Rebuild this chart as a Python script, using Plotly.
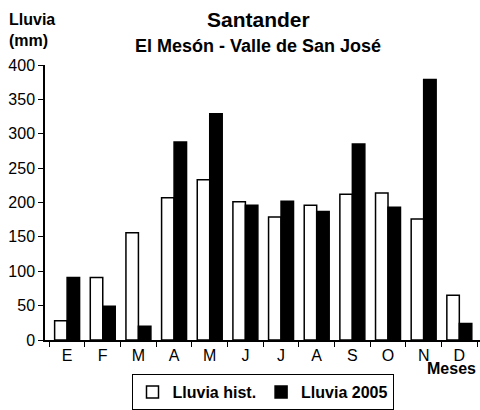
import plotly.graph_objects as go

months = ["Ene", "Feb", "Mar", "Abr", "May", "Jun", "Jul", "Ago", "Sep", "Oct", "Nov", "Dic"]
month_labels = ["E", "F", "M", "A", "M", "J", "J", "A", "S", "O", "N", "D"]
lluvia_hist = [28, 91, 156, 207, 233, 201, 179, 196, 212, 214, 176, 65]
lluvia_2005 = [91, 49, 20, 288, 329, 196, 202, 187, 285, 193, 379, 24]
y_ticks = [0, 50, 100, 150, 200, 250, 300, 350, 400]

FONT = "Liberation Sans, Arial, sans-serif"

fig = go.Figure()
fig.add_trace(go.Bar(
    x=months, y=lluvia_hist, name="Lluvia hist.",
    marker=dict(color="white", line=dict(color="black", width=1.5)),
))
fig.add_trace(go.Bar(
    x=months, y=lluvia_2005, name="Lluvia 2005",
    marker=dict(color="black", line=dict(color="black", width=1.5)),
))

fig.update_layout(
    width=480, height=410,
    margin=dict(l=45, r=0, t=65, b=70, autoexpand=False),
    paper_bgcolor="white", plot_bgcolor="white",
    barmode="group", bargap=0.3, bargroupgap=0,
    font=dict(family=FONT, size=16, color="black"),
    showlegend=True,
    legend=dict(
        orientation="h", x=0.5, xanchor="center",
        yref="container", y=0.0, yanchor="bottom",
        bordercolor="black", borderwidth=1, bgcolor="white",
        font=dict(family=FONT, size=16, color="black", weight="bold"),
        itemwidth=30,
    ),
    xaxis=dict(
        type="category", categoryorder="array", categoryarray=months,
        tickmode="array", tickvals=months, ticktext=month_labels,
        tickson="boundaries", ticks="outside", ticklen=5, tickcolor="black",
        showline=True, linecolor="black", linewidth=1.5,
        showgrid=False, range=[-0.62, 11.58], zeroline=False,
        tickfont=dict(family=FONT, size=16, color="black"),
    ),
    yaxis=dict(
        range=[0, 400], tickmode="array", tickvals=y_ticks,
        ticks="outside", ticklen=5, tickcolor="black",
        showline=True, linecolor="black", linewidth=1.5,
        showgrid=False, zeroline=False,
        tickfont=dict(family=FONT, size=16, color="black"),
    ),
    annotations=[
        dict(text="<b>Santander</b>", x=0.49, y=1.164, xref="paper", yref="paper",
             xanchor="center", yanchor="middle", showarrow=False,
             font=dict(family=FONT, size=21, color="black")),
        dict(text="<b>El Mesón - Valle de San José</b>", x=0.49, y=1.07, xref="paper", yref="paper",
             xanchor="center", yanchor="middle", showarrow=False,
             font=dict(family=FONT, size=18, color="black")),
        dict(text="<b>Lluvia<br>(mm)</b>", x=-0.087, y=1.126, xref="paper", yref="paper",
             xanchor="left", yanchor="middle", align="left", showarrow=False,
             font=dict(family=FONT, size=16, color="black")),
        dict(text="<b>Meses</b>", x=0.995, y=-0.102, xref="paper", yref="paper",
             xanchor="right", yanchor="middle", showarrow=False,
             font=dict(family=FONT, size=16, color="black")),
    ],
)

fig.write_html(
    "out.html",
    config={"displayModeBar": False},
    post_script="document.body.style.margin='0';document.body.style.overflow='hidden';",
)
